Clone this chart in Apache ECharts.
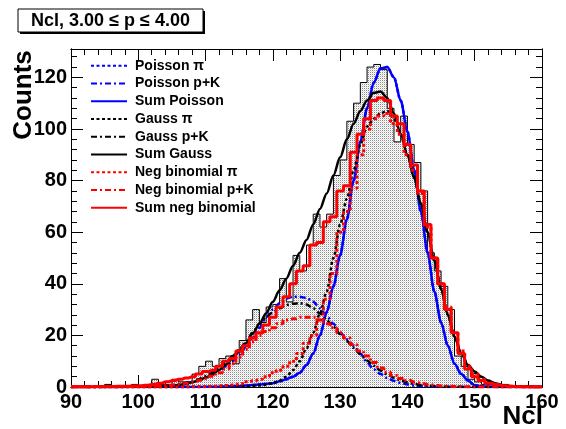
<!DOCTYPE html>
<html><head><meta charset="utf-8">
<script src="https://cdn.jsdelivr.net/npm/echarts@6/dist/echarts.min.js"></script>
<style>html,body{margin:0;padding:0;background:#fff}#c{width:566px;height:429px}</style>
</head><body><div id="c"></div>
<script>
// ---------- data ----------
const xTickLabels = [90, 100, 110, 120, 130, 140, 150, 160];
const yTickLabels = [0, 20, 40, 60, 80, 100, 120];

// histogram: low edges of 1-wide Ncl bins and counts
const nclBins = [90,91,92,93,94,95,96,97,98,99,100,101,102,103,104,105,106,107,108,109,
  110,111,112,113,114,115,116,117,118,119,120,121,122,123,124,125,126,127,128,129,
  130,131,132,133,134,135,136,137,138,139,140,141,142,143,144,145,146,147,148,149,
  150,151,152,153,154,155,156,157,158,159];
const counts = [0,0,0,0,0,1,0,0,0,1,0,0,3,1,1,3,2,2,5,8,
  10,8,11,12,9,18,26,30,25,31,32,42,33,51,45,55,67,62,67,82,
  88,103,110,118,124,125,123,108,95,105,94,87,76,52,45,39,30,12,8,3,
  2,1,1,0,1,0,0,0,0,0];

// Poisson fits
const sumPoissonX = [90,105,110,112,113,114,115,116,117,118,119,120,121,122,123,124,125,126,127,128,129,130,131,132,133,134,135,136,137,138,139,140,141,142,143,144,145,146,147,148,149,150,151,152,153,154,156,160];
const sumPoissonY = [0,0.02,0.05,0.1,0.2,0.3,0.4,0.6,0.8,1.0,1.2,1.5,2.2,3.0,4.0,5.5,8.5,13,20,29,39,51,65,80,95,108,118,123.5,124,120,111,99,84,68,52,37,25,16,9,5,2.5,0.7,0.3,0.1,0.05,0,0,0];
const poissonPiX = [90,105,110,112,113,114,115,116,117,118,119,120,121,122,123,124,125,126,127,128,129,130,131,132,133,134,135,136,137,138,139,140,141,142,143,144,145,146,147,148,149,150,151,152,153,154,156,160];
const poissonPiY = [0,0.02,0.05,0.1,0.2,0.3,0.4,0.6,0.8,1.0,1.2,1.5,2.2,3.0,4.0,5.5,8.5,13,20,29,39,51,65,80,95,108,118,123.5,124,120,111,99,84,68,52,37,25,16,9,5,2.5,0.7,0.3,0.1,0.05,0,0,0];
const poissonPKX = [90,96,100,102,104,106,107,108,109,110,111,112,113,114,115,116,117,118,119,120,121,122,123,124,125,126,127,128,129,130,131,132,133,134,135,136,137,138,139,140,141,142,144,146,150,160];
const poissonPKY = [0,0.03,0.1,0.2,0.4,0.8,1.2,1.8,2.5,3.5,4.7,6.2,8,10,12.5,15.5,19,23,27,30,32.5,34.2,35,35,34.5,33,30.5,27.5,24.5,21,18.5,16,13,9.5,6.8,5,3.5,2.4,1.6,1,0.6,0.4,0.1,0.03,0,0];

// Gauss fits
const sumGaussX = [90,95,100,102,104,105,106,107,108,109,110,111,112,113,114,115,116,117,118,119,120,121,122,123,124,125,126,127,128,129,130,131,132,133,134,135,136,137,138,139,140,141,142,143,144,145,146,147,148,149,150,151,152,153,154,155,156,158,160];
const sumGaussY = [0,0.01,0.05,0.1,0.3,0.5,0.8,1.2,1.8,2.6,3.6,5,6.6,8.6,11,13.8,17,20.6,24.5,28.6,33,37.5,42,47,52,57,63,69,75,82,89,96,102,107,111,114,114.5,112,106,98,90,81,71,60,49,38,28,19.5,13,8.5,6,4,2.5,1.5,0.8,0.4,0.2,0.05,0];
const gaussPiX = [90,110,114,116,118,119,120,121,122,123,124,125,126,127,128,129,130,131,132,133,134,135,136,137,138,139,140,141,142,143,144,145,146,147,148,149,150,151,152,153,154,155,156,158,160];
const gaussPiY = [0,0.01,0.08,0.2,0.6,0.9,1.5,2.5,4,6.5,10,15,21,28.5,37,50,63,73,84,94,101,104,106,107,104,98,90,81.5,71,60,49,38,28,19.5,13,8.5,5.5,3.3,2,1.2,0.7,0.4,0.2,0.05,0];
const gaussPKX = [90,98,102,104,106,108,109,110,111,112,113,114,115,116,117,118,119,120,121,122,123,124,125,126,127,128,129,130,131,132,133,134,135,136,137,138,139,140,141,142,144,146,150,160];
const gaussPKY = [0,0.05,0.15,0.4,1,2.1,3,4.2,5.7,7.5,9.5,12,14.5,17.5,21,24.5,27,29,30.5,31.8,32.3,32.5,32,30.5,28.5,26,23.3,20.5,17.8,15.2,12.7,10.3,8.2,6.4,4.9,3.6,2.6,1.8,1.2,0.8,0.3,0.1,0,0];

// Negative binomial fits (evaluated at integer Ncl)
const nbX = [90,91,92,93,94,95,96,97,98,99,100,101,102,103,104,105,106,107,108,109,
  110,111,112,113,114,115,116,117,118,119,120,121,122,123,124,125,126,127,128,129,
  130,131,132,133,134,135,136,137,138,139,140,141,142,143,144,145,146,147,148,149,
  150,151,152,153,154,155,156,157,158,159,160];
const sumNbY = [0.05,0.07,0.1,0.12,0.15,0.18,0.22,0.27,0.33,0.4,0.5,0.7,1,1.5,2,2.5,3,3.5,4,5,
  6,6.5,8,10,11,14,16,19,21,24,27,31,35,40,45,47,55,56,64,66,
  76,78,91,98,104,111,112,111,105,102,94,86,76,63,50,40,30,21,13,7,
  4,2.5,1.5,1,0.5,0.3,0.2,0.1,0,0,0];
const nbPiY = [0,0,0,0,0,0,0,0,0,0,0,0,0,0,0,0,0,0,0.1,0.1,
  0.2,0.3,0.5,0.6,0.8,1.2,2,2.5,3,4,5.5,6.5,8,10,13,17,20,26,34,44,
  60,68,77,90,100,104,105,106,102,98,90,84,75,62,50,40,31,21,14,8,
  5,3,1.5,1,0.5,0.3,0.1,0,0,0,0];
const nbPKY = [0.02,0.03,0.04,0.05,0.07,0.09,0.11,0.13,0.16,0.18,0.2,0.25,0.3,0.4,0.5,0.8,1.1,1.5,2,2.6,
  3.3,4.2,5.5,7,9,11.5,14.5,17.5,20,21.5,23,24.5,26,26.5,27,27,27,26,24.5,23,
  21,19,16.5,14,12,9.5,7.4,5.7,4.5,3.3,2.5,1.8,1.3,0.9,0.6,0.4,0.25,0.2,0.1,0.05,
  0,0,0,0,0,0,0,0,0,0,0];

const titleText = 'Ncl, 3.00 \u2264 p \u2264 4.00';
// ---------------------------------------------------

const FONT = '"Liberation Sans", Arial, Helvetica, sans-serif';
const zip = (xs, ys) => xs.map((x, i) => [x, ys[i]]);

// dotted grey fill pattern for the histogram
const pat = document.createElement('canvas');
pat.width = 2; pat.height = 2;
const pc = pat.getContext('2d');
pc.fillStyle = '#ffffff'; pc.fillRect(0, 0, 2, 2);
pc.fillStyle = '#8a8a8a'; pc.fillRect(0, 0, 1, 1);
pc.fillStyle = '#e0e0e0'; pc.fillRect(1, 1, 1, 1);

const histData = zip(nclBins, counts);
histData.push([nclBins[nclBins.length - 1] + 1, counts[counts.length - 1]]);

const dotted = [3, 2.5];
const dashdot = [6, 3, 2, 3];

function curve(name, data, color, type, width, step) {
  return {
    name, type: 'line', data, xAxisIndex: 0, yAxisIndex: 0,
    symbol: 'none', showSymbol: false, silent: true,
    step: step ? 'middle' : false,
    smooth: step ? false : 0.3, smoothMonotone: 'x',
    lineStyle: { color, width, type },
    itemStyle: { color: 'rgba(0,0,0,0)', borderWidth: 0 },
    z: 3
  };
}

const grid = { left: 71, top: 49, width: 471, height: 338 };
const tickColor = '#000';
function xAx(pos, interval, len, labels) {
  return {
    type: 'value', min: 90, max: 160, interval, position: pos, gridIndex: 0,
    axisLine: { show: true, onZero: false, lineStyle: { color: '#000', width: 1 } },
    axisTick: { show: true, inside: true, length: len, lineStyle: { color: tickColor, width: 1 } },
    axisLabel: labels ? {
      show: true, margin: 5, color: '#000', fontFamily: FONT, fontWeight: 'bold', fontSize: 20,
      formatter: v => xTickLabels.indexOf(v) >= 0 ? String(v) : ''
    } : { show: false },
    splitLine: { show: false }
  };
}
function yAx(pos, interval, len, labels) {
  return {
    type: 'value', min: 0, max: 131, interval, position: pos, gridIndex: 0,
    axisLine: { show: true, onZero: false, lineStyle: { color: '#000', width: 1 } },
    axisTick: { show: true, inside: true, length: len, lineStyle: { color: tickColor, width: 1 } },
    axisLabel: labels ? {
      show: true, margin: 4, color: '#000', fontFamily: FONT, fontWeight: 'bold', fontSize: 20,
      formatter: v => yTickLabels.indexOf(v) >= 0 ? String(v) : ''
    } : { show: false },
    splitLine: { show: false }
  };
}

const chart = echarts.init(document.getElementById('c'), null, { renderer: 'canvas' });
chart.setOption({
  animation: false,
  backgroundColor: '#fff',
  grid,
  xAxis: [xAx('bottom', 10, 12, true), xAx('bottom', 2, 6, false), xAx('top', 10, 12, false), xAx('top', 2, 6, false)],
  yAxis: [yAx('left', 20, 12, true), yAx('left', 4, 6, false), yAx('right', 20, 12, false), yAx('right', 4, 6, false)],
  legend: {
    show: true, orient: 'vertical', left: 90, top: 58.7, padding: 0,
    itemWidth: 36, itemHeight: 14, itemGap: 3.75,
    itemStyle: { color: 'rgba(0,0,0,0)', borderWidth: 0 },
    textStyle: { fontFamily: FONT, fontWeight: 'bold', fontSize: 14, color: '#000', padding: [0, 0, 0, 3] },
    data: ['Poisson \u03c0', 'Poisson p+K', 'Sum Poisson', 'Gauss \u03c0', 'Gauss p+K', 'Sum Gauss',
           'Neg binomial \u03c0', 'Neg binomial p+K', 'Sum neg binomial'],
    selectedMode: false
  },
  graphic: [
    { type: 'rect', shape: { x: 20, y: 11, width: 185, height: 23 }, style: { fill: '#000' }, z: 10 },
    { type: 'rect', shape: { x: 18, y: 9, width: 185, height: 23 }, style: { fill: '#fff', stroke: '#000', lineWidth: 1 }, z: 11 },
    { type: 'text', x: 110.5, y: 21, z: 12, style: { text: titleText, font: 'bold 18px ' + FONT, fill: '#000', align: 'center', verticalAlign: 'middle' } },
    { type: 'text', x: 24, y: 95, rotation: Math.PI / 2, z: 12, style: { text: 'Counts', font: 'bold 26px ' + FONT, fill: '#000', align: 'center', verticalAlign: 'middle' } },
    { type: 'text', x: 543, y: 417, z: 12, style: { text: 'Ncl', font: 'bold 26px ' + FONT, fill: '#000', align: 'right', verticalAlign: 'middle' } }
  ],
  series: [
    {
      name: 'hist', type: 'line', data: histData, step: 'end', symbol: 'none', silent: true,
      lineStyle: { color: '#000', width: 1 },
      areaStyle: { color: { image: pat, repeat: 'repeat' }, opacity: 1 },
      z: 2
    },
    curve('Poisson \u03c0', zip(poissonPiX, poissonPiY), '#0000ff', dotted, 2.5, false),
    curve('Poisson p+K', zip(poissonPKX, poissonPKY), '#0000ff', dashdot, 2.5, false),
    curve('Sum Poisson', zip(sumPoissonX, sumPoissonY), '#0000ff', 'solid', 2.5, false),
    curve('Gauss \u03c0', zip(gaussPiX, gaussPiY), '#000000', dotted, 2.5, false),
    curve('Gauss p+K', zip(gaussPKX, gaussPKY), '#000000', dashdot, 2.5, false),
    curve('Sum Gauss', zip(sumGaussX, sumGaussY), '#000000', 'solid', 2.5, false),
    curve('Neg binomial \u03c0', zip(nbX, nbPiY), '#ff0000', dotted, 3, true),
    curve('Neg binomial p+K', zip(nbX, nbPKY), '#ff0000', dashdot, 3, true),
    curve('Sum neg binomial', zip(nbX, sumNbY), '#ff0000', 'solid', 3, true)
  ]
});
</script>
</body></html>
